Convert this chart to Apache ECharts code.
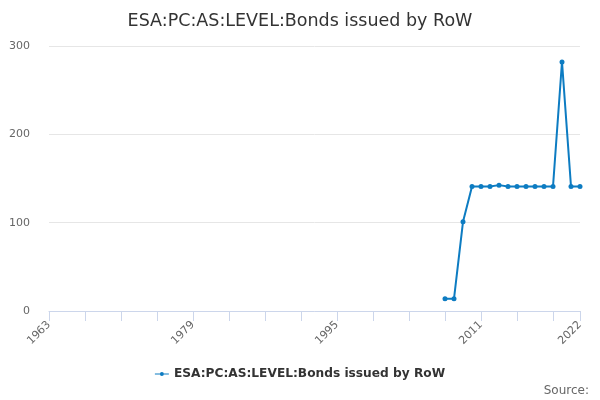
<!DOCTYPE html>
<html>
<head>
<meta charset="utf-8">
<script src="https://cdn.jsdelivr.net/npm/echarts@6/dist/echarts.min.js"></script>
<style>html,body{margin:0;padding:0;background:#fff}#c{width:600px;height:400px}</style>
</head>
<body>
<div id="c"></div>
<script>
var years = [];
for (var y = 1963; y <= 2022; y++) years.push(String(y));
var dataYears = ["2007","2008","2009","2010","2011","2012","2013","2014","2015","2016","2017","2018","2019","2020","2021","2022"];
var dataValues = [14, 14, 101, 141, 141, 141, 142.5, 141, 141, 141, 141, 141, 141, 282, 141, 141];
var shownLabels = ["1963","1979","1995","2011","2022"];
var seriesName = "ESA:PC:AS:LEVEL:Bonds issued by RoW";

var seriesData = years.map(function (yr) {
  var i = dataYears.indexOf(yr);
  return i >= 0 ? dataValues[i] : null;
});

var chart = echarts.init(document.getElementById('c'));
chart.setOption({
  animation: false,
  textStyle: { fontFamily: 'DejaVu Sans' },
  title: {
    text: seriesName,
    left: 'center', top: 7,
    textStyle: { fontFamily: 'DejaVu Sans', fontSize: 17.5, fontWeight: 'normal', color: '#333' }
  },
  legend: {
    bottom: 15, left: 'center',
    itemWidth: 14, itemHeight: 6, itemGap: 6,
    textStyle: { fontFamily: 'DejaVu Sans', fontSize: 12.2, fontWeight: 'bold', color: '#333' },
    data: [{ name: seriesName, icon: 'path://M0,2.4 L14,2.4 L14,3.6 L0,3.6 Z M7,1 A2,2 0 1 1 6.99,1 Z' }]
  },
  graphic: [{
    type: 'text', right: 11, bottom: 3,
    style: { text: 'Source:', fontFamily: 'DejaVu Sans', fontSize: 12, fill: '#666' }
  }],
  grid: { left: 49, right: 20, top: 46, bottom: 89, containLabel: false },
  xAxis: {
    type: 'category', data: years, boundaryGap: false,
    axisLine: { lineStyle: { color: '#ccd6eb' } },
    axisTick: { show: true, length: 10, lineStyle: { color: '#ccd6eb' },
      interval: function (idx, val) { return idx % 4 === 0 || val === '2022'; } },
    axisLabel: {
      rotate: 45, color: '#666', fontSize: 11, fontFamily: 'DejaVu Sans', margin: 12,
      interval: function (idx, val) { return shownLabels.indexOf(val) >= 0; }
    },
    splitLine: { show: false }
  },
  yAxis: {
    type: 'value', min: 0, max: 300, interval: 100,
    axisLine: { show: false }, axisTick: { show: false },
    axisLabel: { color: '#666', fontSize: 11, fontFamily: 'DejaVu Sans', margin: 19 },
    splitLine: { lineStyle: { color: '#e6e6e6' } }
  },
  series: [{
    name: seriesName, type: 'line', data: seriesData,
    connectNulls: false,
    symbol: 'circle', symbolSize: 5, showAllSymbol: true,
    lineStyle: { width: 2, color: '#0d7cc2' },
    itemStyle: { color: '#0d7cc2' }
  }]
});
</script>
</body>
</html>
